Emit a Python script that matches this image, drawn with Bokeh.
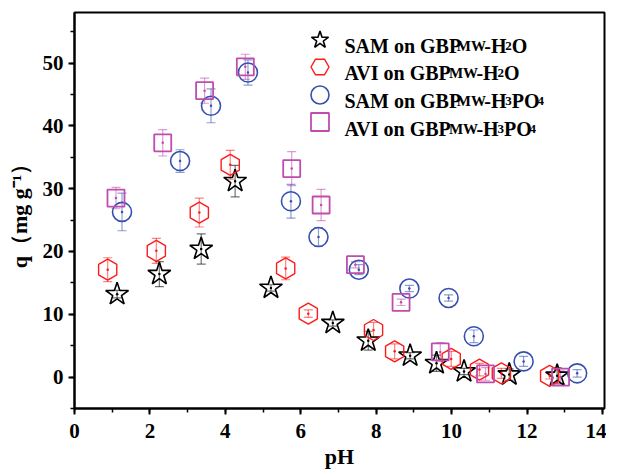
import numpy as np
from bokeh.plotting import figure
from bokeh.models import (ColumnDataSource, Whisker, TeeHead, Legend, LegendItem,
                          Label, Range1d, FixedTicker)
from bokeh.embed import file_html
from bokeh.resources import INLINE

FONT = "Liberation Serif"

# ---------------- data ----------------
sam_h2o_ph = [1.13, 2.25, 3.36, 4.26, 5.21, 6.85, 7.79, 8.90, 9.60, 10.33, 11.53, 12.80]
sam_h2o_q = [13.2, 16.4, 20.4, 31.2, 14.2, 8.6, 5.8, 3.4, 2.2, 0.9, 0.4, 0.2]
sam_h2o_err = [0.6, 2.0, 2.4, 2.5, 0.5, 0.5, 1.5, 0.5, 1.3, 0.5, 0.9, 1.3]

avi_h2o_ph = [0.88, 2.17, 3.31, 4.13, 5.60, 6.20, 7.93, 8.49, 9.99, 10.74, 11.32, 12.60]
avi_h2o_q = [17.1, 20.1, 26.2, 33.8, 17.3, 10.1, 7.5, 4.1, 2.9, 1.2, 0.6, 0.2]
avi_h2o_err = [1.9, 2.0, 2.3, 2.3, 1.8, 0.6, 1.2, 1.2, 1.2, 1.0, 0.8, 0.5]

sam_h3po4_ph = [1.26, 2.80, 3.62, 4.60, 5.74, 6.47, 7.54, 8.88, 9.92, 10.59, 11.91, 13.33]
sam_h3po4_q = [26.3, 34.4, 43.2, 48.5, 28.0, 22.3, 17.1, 14.1, 12.6, 6.5, 2.5, 0.6]
sam_h3po4_err = [3.0, 1.8, 2.7, 2.0, 2.7, 1.5, 0.8, 0.5, 0.5, 1.0, 0.8, 0.6]

avi_h3po4_ph = [1.10, 2.34, 3.45, 4.53, 5.76, 6.54, 7.45, 8.66, 9.70, 10.90, 12.89]
avi_h3po4_q = [28.5, 37.3, 45.6, 49.4, 33.2, 27.4, 17.9, 11.9, 4.0, 0.5, 0.0]
avi_h3po4_err = [1.7, 2.1, 2.0, 2.0, 2.7, 2.5, 0.5, 0.5, 1.5, 1.0, 1.0]

x_ticks = [0, 2, 4, 6, 8, 10, 12, 14]
x_minor = list(range(0, 15))
y_ticks = [0, 10, 20, 30, 40, 50]
y_minor = list(range(-5, 60, 5))

# legend text pieces: (text, size key)
legend_rows = [
    [("SAM on GBP", "big"), ("MW", "small"), ("-H", "big"), ("2", "sub"), ("O", "big")],
    [("AVI on GBP", "big"), ("MW", "small"), ("-H", "big"), ("2", "sub"), ("O", "big")],
    [("SAM on GBP", "big"), ("MW", "small"), ("-H", "big"), ("3", "sub"), ("PO", "big"), ("4", "sub")],
    [("AVI on GBP", "big"), ("MW", "small"), ("-H", "big"), ("3", "sub"), ("PO", "big"), ("4", "sub")],
]

# ---------------- figure ----------------
FRAME_W, FRAME_H = 530, 396
p = figure(frame_width=FRAME_W, frame_height=FRAME_H,
           x_range=Range1d(0, 14.055), y_range=Range1d(-5, 58.05),
           output_backend="svg", toolbar_location=None,
           min_border_left=74, min_border_right=2, min_border_top=12, min_border_bottom=40)
p.grid.visible = False
p.outline_line_color = "black"
p.outline_line_width = 2
p.background_fill_color = "white"
p.border_fill_color = "white"

for ax in (p.xaxis[0], p.yaxis[0]):
    ax.axis_line_width = 2
    ax.major_tick_line_width = 2
    ax.minor_tick_line_width = 1.5
    ax.major_tick_out = 6
    ax.major_tick_in = 0
    ax.minor_tick_out = 4
    ax.minor_tick_in = 0
    ax.major_label_text_font = FONT
    ax.major_label_text_font_style = "bold"
    ax.major_label_text_font_size = "21px"
    ax.major_label_text_color = "black"
    ax.axis_label_text_font = FONT
    ax.axis_label_text_font_style = "bold"
    ax.axis_label_text_font_size = "22px"
    ax.axis_label_text_color = "black"

p.xaxis.ticker = FixedTicker(ticks=x_ticks, minor_ticks=x_minor)
p.yaxis.ticker = FixedTicker(ticks=y_ticks, minor_ticks=y_minor)
p.xaxis.axis_label = "pH"
p.yaxis.axis_label = "q（mg g⁻¹）"
p.xaxis.major_label_standoff = 9
p.yaxis.major_label_standoff = 5
p.xaxis.axis_label_standoff = 3
p.yaxis.axis_label_standoff = 8

series = [
    (sam_h2o_ph, sam_h2o_q, sam_h2o_err, "star", "black", 24, 0.0, 1.6),
    (avi_h2o_ph, avi_h2o_q, avi_h2o_err, "hex", "#FF1A1A", 21, np.pi / 2, 1.4),
    (sam_h3po4_ph, sam_h3po4_q, sam_h3po4_err, "circle", "#3550B0", 19, 0.0, 1.6),
    (avi_h3po4_ph, avi_h3po4_q, avi_h3po4_err, "square", "#C04CAE", 17, 0.0, 1.8),
]

renderers = []
for xs, ys, es, mk, col, sz, ang, lw in series:
    src = ColumnDataSource(dict(x=xs, y=ys,
                                lower=[y - e for y, e in zip(ys, es)],
                                upper=[y + e for y, e in zip(ys, es)]))
    w = Whisker(base="x", lower="lower", upper="upper", source=src,
                line_color=col, line_alpha=0.55, line_width=1.2,
                upper_head=TeeHead(size=9, line_color=col, line_alpha=0.55, line_width=1.2),
                lower_head=TeeHead(size=9, line_color=col, line_alpha=0.55, line_width=1.2))
    p.add_layout(w)
    r = p.scatter("x", "y", source=src, marker=mk, size=sz, angle=ang,
                  line_color=col, fill_alpha=0, line_width=lw)
    p.scatter("x", "y", source=src, marker="circle", size=2.5,
              fill_color=col, line_color=None)
    renderers.append(r)

# one legend per entry (frame-relative screen positions)
FRAME_BOTTOM = 409          # page y of the frame bottom in the reference
marker_centers = [40, 67, 95, 122.5]
baselines = [46.7, 73.5, 101.7, 129.5]
GLYPH = 45
for r, yc in zip(renderers, marker_centers):
    lg = Legend(items=[LegendItem(label=" ", renderers=[r])],
                location=(223, FRAME_BOTTOM - (yc + GLYPH / 2)),
                glyph_width=GLYPH, glyph_height=GLYPH, spacing=0,
                padding=0, margin=0, label_width=0, label_height=10, label_standoff=0,
                label_text_font_size="4px",
                border_line_alpha=0, background_fill_alpha=0)
    p.add_layout(lg)

# legend texts as labels (screen units, relative to frame bottom-left)
sizes = {"big": 20, "small": 15, "sub": 13}
widths = {"S": 556, "A": 722, "M": 889, " ": 250, "o": 500, "n": 500, "G": 722,
          "B": 667, "P": 556, "W": 944, "-": 333, "H": 722, "O": 722, "V": 722,
          "I": 333, "2": 500, "3": 500, "4": 500}
text_x0 = 270
for row, yb in zip(legend_rows, baselines):
    xpos = text_x0
    for txt, key in row:
        fs = sizes[key]
        p.add_layout(Label(x=xpos, y=FRAME_BOTTOM - yb,
                           x_units="screen", y_units="screen",
                           text=txt, text_font=FONT, text_font_style="bold",
                           text_font_size=f"{fs}px", text_baseline="alphabetic",
                           text_color="black"))
        xpos += sum(widths.get(c, 500) for c in txt) * fs / 1000.0

open("out.html", "w").write(file_html(p, INLINE))
